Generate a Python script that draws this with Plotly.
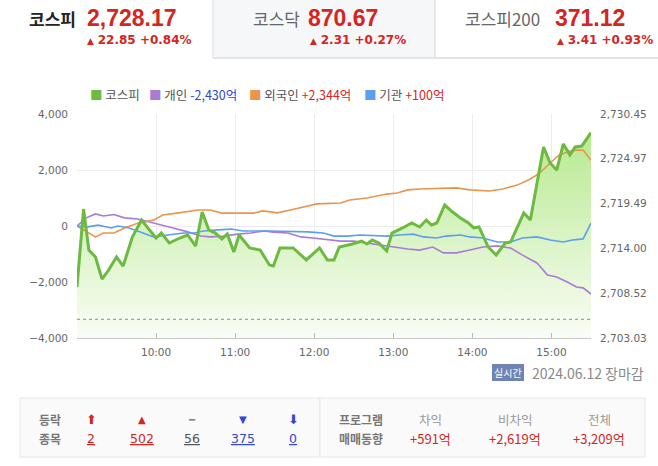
import plotly.graph_objects as go

DATE = "2024-06-12 "

# ---- data ----
kospi_times = ["09:00","09:05","09:09","09:14","09:19","09:24","09:30","09:35","09:42","09:49","09:55",
               "10:00","10:04","10:10","10:18","10:24","10:30","10:35","10:40","10:45","10:50","10:54","10:59",
               "11:03","11:11","11:19","11:26","11:29","11:34","11:44","11:54","12:04","12:10","12:15","12:19",
               "12:29","12:36","12:40","12:44","12:49","12:55","12:59","13:07","13:14","13:20","13:25","13:29",
               "13:33","13:39","13:45","13:51","13:57","14:01","14:05","14:12","14:18","14:25","14:29","14:39",
               "14:44","14:54","14:59","15:04","15:09","15:14","15:18","15:23","15:30"]
kospi_values = [2709.3,2718.82,2713.80,2712.95,2710.25,2711.35,2712.95,2711.84,2715.39,2717.47,2716.25,
                2715.27,2715.88,2714.66,2715.27,2715.64,2714.29,2718.45,2716.25,2715.88,2715.15,2715.76,2713.56,
                2715.64,2714.05,2713.80,2711.97,2711.84,2714.05,2714.05,2712.58,2714.05,2712.58,2712.58,2714.17,
                2714.54,2714.90,2714.54,2715.03,2714.66,2713.68,2715.88,2716.50,2717.11,2716.62,2717.47,2716.86,
                2717.11,2719.31,2718.45,2717.72,2717.11,2716.50,2716.62,2714.17,2713.19,2714.66,2714.78,2718.33,
                2717.47,2726.41,2724.45,2723.59,2726.78,2725.43,2726.41,2726.53,2728.17]
prev_close = 2705.32

foreign_times = ["09:00","09:14","09:20","09:28","09:36","09:46","09:58","10:05","10:16","10:32","10:41",
                 "10:50","11:02","11:14","11:21","11:32","11:42","11:51","12:02","12:20","12:27","12:40",
                 "12:48","12:55","13:03","13:11","13:20","13:38","13:48","13:58","14:13","14:23","14:34",
                 "14:44","14:51","14:59","15:06","15:14","15:19","15:24","15:30"]
foreign_values = [0,-390,-250,-250,-70,100,210,390,460,570,570,
                  460,460,460,540,470,570,680,790,820,930,1000,
                  1070,1140,1180,1290,1320,1360,1360,1290,1250,1320,1460,
                  1680,1890,2250,2540,2680,2710,2710,2344]

retail_times = ["09:00","09:07","09:14","09:20","09:28","09:36","09:46","09:56","10:05","10:13","10:24",
                "10:34","10:41","10:51","11:02","11:12","11:22","11:29","11:40","11:50","11:59","12:10",
                "12:20","12:30","12:40","12:50","13:00","13:11","13:20","13:30","13:38","13:48","13:58",
                "14:08","14:19","14:29","14:38","14:49","14:57","15:04","15:12","15:19","15:24","15:30"]
retail_values = [0,290,430,360,410,290,250,140,40,-70,-210,
                 -360,-390,-360,-290,-250,-180,-220,-250,-390,-430,-500,
                 -540,-540,-610,-680,-750,-820,-860,-750,-960,-960,-860,
                 -750,-710,-790,-1040,-1320,-1750,-1820,-2000,-2180,-2210,-2430]

inst_times = ["09:00","09:08","09:16","09:26","09:31","09:39","09:48","09:58","10:09","10:21","10:29",
              "10:36","10:47","10:57","11:06","11:25","11:55","12:07","12:15","12:25","12:35","12:55",
              "13:05","13:15","13:23","13:33","13:40","13:51","13:58","14:08","14:19","14:29","14:38",
              "14:49","14:59","15:09","15:16","15:24","15:30"]
inst_values = [0,-30,30,-70,0,-60,-210,-390,-320,-250,-250,
               -180,-140,-110,-180,-180,-210,-250,-360,-360,-320,-360,
               -320,-290,-390,-430,-360,-320,-390,-430,-570,-570,-430,
               -390,-500,-570,-500,-460,100]

x_tick_hours = ["10:00","11:00","12:00","13:00","14:00","15:00"]
left_ticks = [-4000, -2000, 0, 2000, 4000]
right_ticks = [2703.03, 2708.52, 2714.00, 2719.49, 2724.97, 2730.45]
right_tick_labels = ["2,703.03", "2,708.52", "2,714.00", "2,719.49", "2,724.97", "2,730.45"]

header_names = ["코스피", "코스닥", "코스피200"]
header_prices = ["2,728.17", "870.67", "371.12"]
header_changes = ["22.85 +0.84%", "2.31 +0.27%", "3.41 +0.93%"]

legend_labels = ["코스피", "개인", "외국인", "기관"]
legend_values = ["", "-2,430억", "+2,344억", "+100억"]

updown_symbols = ["⬆", "▲", "━", "▼", "⬇"]
updown_counts = ["2", "502", "56", "375", "0"]
program_labels = ["차익", "비차익", "전체"]
program_values = ["+591억", "+2,619억", "+3,209억"]

# ---- styles ----
GREEN = "#6cba3f"
PURPLE = "#a97bd8"
ORANGE = "#e9954d"
BLUE = "#5c9ff0"
RED = "#d3261f"
NBLUE = "#3347d4"
KF = "Noto Sans CJK KR"
NF = "DejaVu Sans"

W, H = 658, 466
L, R, T, B = 77, 591, 114, 338


def px(x):
    return (x - L) / (R - L)


def py(y):
    return (B - y) / (B - T)


def tt(lst):
    return [DATE + t for t in lst]


fig = go.Figure()

# index fill (primary axis, drawn underneath)
fig.add_trace(go.Scatter(
    x=tt(kospi_times), y=kospi_values, yaxis="y", mode="lines",
    line=dict(width=0, color="rgba(0,0,0,0)"), fill="tozeroy",
    fillgradient=dict(type="vertical", colorscale=[[0, "#fafdf6"], [1, "#b2e888"]],
                      start=right_ticks[0], stop=right_ticks[-1]),
    hoverinfo="skip", showlegend=False))
# previous close dotted
fig.add_trace(go.Scatter(
    x=[DATE + "09:00", DATE + "15:30"], y=[prev_close, prev_close], yaxis="y", mode="lines",
    line=dict(color="#8a8a8a", width=1, dash="dot"), showlegend=False, hoverinfo="skip"))

# investor flows (left axis)
for tms, vals, col in [(retail_times, retail_values, PURPLE),
                       (foreign_times, foreign_values, ORANGE),
                       (inst_times, inst_values, BLUE)]:
    fig.add_trace(go.Scatter(x=tt(tms), y=vals, yaxis="y2", mode="lines",
                             line=dict(color=col, width=1.6), showlegend=False))

# index line on top
fig.add_trace(go.Scatter(x=tt(kospi_times), y=kospi_values, yaxis="y3", mode="lines",
                         line=dict(color=GREEN, width=3), showlegend=False))

axis_font = dict(family=NF, size=10.5, color="#666")
yr = [right_ticks[0], right_ticks[-1]]
fig.update_layout(
    width=W, height=H,
    margin=dict(l=L, r=W - R, t=T, b=H - B, pad=0),
    paper_bgcolor="white", plot_bgcolor="white",
    xaxis=dict(type="date", range=[DATE + "09:00", DATE + "15:30"],
               tickvals=tt(x_tick_hours), ticktext=x_tick_hours,
               showgrid=True, gridcolor="#ececec", gridwidth=1,
               ticks="inside", ticklen=5, tickcolor="#bbb",
               showline=True, linecolor="#c8c8c8", linewidth=1,
               tickfont=axis_font, zeroline=False, ticklabelstandoff=4),
    yaxis=dict(range=yr, side="right", tickvals=right_ticks, ticktext=right_tick_labels,
               showgrid=False, zeroline=False, tickfont=axis_font, ticklabelstandoff=8),
    yaxis2=dict(range=[-4000, 4000], side="left", overlaying="y", tickvals=left_ticks,
                tickformat=",", showgrid=True, gridcolor="#ececec", zeroline=False,
                tickfont=axis_font, ticklabelstandoff=8),
    yaxis3=dict(range=yr, overlaying="y", visible=False),
    showlegend=False,
)

shapes = []
ann = []

# header tabs
shapes.append(dict(type="rect", xref="paper", yref="paper", x0=px(213), x1=px(435), y0=py(58), y1=py(-2),
                   fillcolor="#f6f7f9", line=dict(color="#dcdde1", width=1), layer="below"))
shapes.append(dict(type="line", xref="paper", yref="paper", x0=px(213), x1=px(660), y0=py(58), y1=py(58),
                   line=dict(color="#e2e3e7", width=2)))
shapes.append(dict(type="line", xref="paper", yref="paper", x0=px(435), x1=px(435), y0=py(58), y1=py(0),
                   line=dict(color="#e2e3e7", width=1)))

name_x = [27, 251, 463]
price_x = [85, 306, 553]
change_x = [85, 308, 555]
for i in range(3):
    nm = "<b>%s</b>" % header_names[i] if i == 0 else header_names[i]
    ann.append(dict(text=nm, x=px(name_x[i]), y=py(18), xanchor="left", yanchor="middle",
                    font=dict(family=KF, size=17, color="#222" if i == 0 else "#666")))
    ann.append(dict(text="<b>%s</b>" % header_prices[i], x=px(price_x[i]), y=py(18), xanchor="left",
                    yanchor="middle", font=dict(family="Liberation Sans", size=23, color=RED)))
    ann.append(dict(text='<span style="font-size:9px">▲</span> <b>' + header_changes[i] + '</b>',
                    x=px(change_x[i]), y=py(40), xanchor="left", yanchor="middle",
                    font=dict(family=NF, size=12, color=RED)))

# legend
leg_x = [88, 147, 247, 362]
leg_cols = [GREEN, PURPLE, ORANGE, BLUE]
val_cols = [RED, NBLUE, RED, RED]
for i in range(4):
    t = '<span style="color:%s">■</span> <span style="color:#555">%s</span>' % (leg_cols[i], legend_labels[i])
    if legend_values[i]:
        t += ' <span style="color:%s">%s</span>' % (val_cols[i], legend_values[i])
    ann.append(dict(text=t, x=px(leg_x[i]), y=py(94), xanchor="left", yanchor="middle",
                    font=dict(family=KF, size=12.5, color="#555")))

# realtime badge + date
shapes.append(dict(type="rect", xref="paper", yref="paper", x0=px(492), x1=px(524), y0=py(381), y1=py(364),
                   fillcolor="#7083b5", line=dict(width=0)))
ann.append(dict(text="실시간", x=px(508), y=py(372.5), xanchor="center", yanchor="middle",
                font=dict(family=KF, size=10, color="white")))
ann.append(dict(text="2024.06.12 장마감", x=px(530), y=py(372.5), xanchor="left", yanchor="middle",
                font=dict(family=KF, size=14, color="#888")))

# bottom panels
shapes.append(dict(type="rect", xref="paper", yref="paper", x0=px(20), x1=px(320), y0=py(457), y1=py(398),
                   fillcolor="#fafafa", line=dict(color="#e6e6e6", width=1)))
shapes.append(dict(type="rect", xref="paper", yref="paper", x0=px(320), x1=px(645), y0=py(457), y1=py(398),
                   fillcolor="#fafafa", line=dict(color="#e6e6e6", width=1)))

ROW1, ROW2 = 419, 438
ann.append(dict(text="<b>등락</b>", x=px(37), y=py(ROW1), xanchor="left", yanchor="middle",
                font=dict(family=KF, size=12, color="#777")))
ann.append(dict(text="<b>종목</b>", x=px(37), y=py(ROW2), xanchor="left", yanchor="middle",
                font=dict(family=KF, size=12, color="#777")))
ud_x = [91, 142, 192, 243, 293]
ud_sym_col = [RED, RED, "#888", NBLUE, NBLUE]
ud_num_col = [RED, RED, "#555", NBLUE, NBLUE]
ud_sym_size = [13, 10, 10, 10, 13]
for i in range(5):
    ann.append(dict(text=updown_symbols[i], x=px(ud_x[i]), y=py(ROW1), xanchor="center", yanchor="middle",
                    font=dict(family=NF, size=ud_sym_size[i], color=ud_sym_col[i])))
    ann.append(dict(text="<u>%s</u>" % updown_counts[i], x=px(ud_x[i]), y=py(ROW2), xanchor="center",
                    yanchor="middle", font=dict(family=NF, size=12.5, color=ud_num_col[i])))

ann.append(dict(text="<b>프로그램</b>", x=px(337), y=py(ROW1), xanchor="left", yanchor="middle",
                font=dict(family=KF, size=12, color="#777")))
ann.append(dict(text="<b>매매동향</b>", x=px(337), y=py(ROW2), xanchor="left", yanchor="middle",
                font=dict(family=KF, size=12, color="#777")))
pg_x = [430, 515, 599]
for i in range(3):
    ann.append(dict(text=program_labels[i], x=px(pg_x[i]), y=py(ROW1), xanchor="center", yanchor="middle",
                    font=dict(family=KF, size=12.5, color="#999")))
    ann.append(dict(text=program_values[i], x=px(pg_x[i]), y=py(ROW2), xanchor="center", yanchor="middle",
                    font=dict(family=KF, size=13, color=RED)))

for a in ann:
    a.update(xref="paper", yref="paper", showarrow=False)
fig.update_layout(shapes=shapes, annotations=ann)

fig.write_html("out.html")
